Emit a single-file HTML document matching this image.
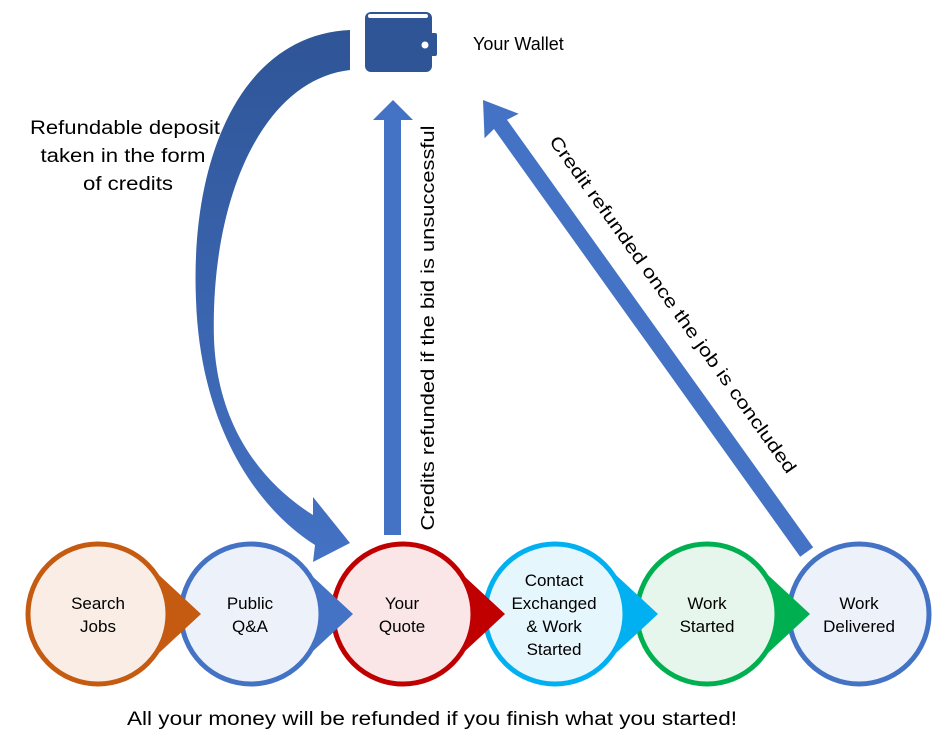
<!DOCTYPE html>
<html><head><meta charset="utf-8"><style>
html,body{margin:0;padding:0;background:#fff;}
svg{display:block;font-family:"Liberation Sans",sans-serif;}
</style></head><body>
<svg width="950" height="750" viewBox="0 0 950 750" xmlns="http://www.w3.org/2000/svg">
<defs>
<linearGradient id="g" x1="0" y1="0" x2="0" y2="1">
<stop offset="0" stop-color="#2f5597"/><stop offset="1" stop-color="#4472c4"/>
</linearGradient>
</defs>
<path d="M350 30 C240 35,190 160,196 300 C200 420,252 505,315 545 L313 562 L350 543 L313 497 L313 515 C265 485,218 430,214 340 C210 200,262 80,350 70 Z" fill="url(#g)"/>
<rect x="365" y="12" width="67" height="60" rx="6" fill="#2f5597"/>
<rect x="368" y="14" width="60" height="4" rx="2" fill="#fff"/>
<rect x="365" y="19" width="67" height="4" fill="#2f5597"/>
<rect x="420" y="33" width="17" height="23" rx="2" fill="#2f5597"/>
<circle cx="425" cy="45" r="3.5" fill="#fff"/>
<text x="473" y="50" font-size="18">Your Wallet</text>
<path d="M384 535 L384 120 L373 120 L393 100 L413 120 L401 120 L401 535 Z" fill="#4472c4"/>
<text transform="translate(434,328) rotate(-90)" font-size="18" text-anchor="middle" textLength="405" lengthAdjust="spacingAndGlyphs">Credits refunded if the bid is unsuccessful</text>
<g transform="translate(483,100) rotate(54.4)">
<path d="M0 0 L32 -21 L30 -8 L556 -8 L556 8 L30 8 L32 21 Z" fill="#4472c4"/>
</g>
<text transform="translate(668,308) rotate(54.4)" font-size="18" text-anchor="middle" textLength="410" lengthAdjust="spacingAndGlyphs">Credit refunded once the job is concluded</text>
<g font-size="19" text-anchor="middle">
<text x="125" y="134" textLength="190" lengthAdjust="spacingAndGlyphs">Refundable deposit</text>
<text x="123" y="162" textLength="165" lengthAdjust="spacingAndGlyphs">taken in the form</text>
<text x="128" y="190" textLength="90" lengthAdjust="spacingAndGlyphs">of credits</text>
</g>
<g stroke-width="5">
<circle cx="859" cy="614" r="70" fill="#edf2fa" stroke="#4472c4"/>
<polygon points="810,614 755,563 755,665" fill="#00b050"/>
<circle cx="707" cy="614" r="70" fill="#e6f6ec" stroke="#00b050"/>
<polygon points="658,614 603,563 603,665" fill="#00b0f0"/>
<circle cx="555" cy="614" r="70" fill="#e6f6fd" stroke="#00b0f0"/>
<polygon points="505,614 450,563 450,665" fill="#c00000"/>
<circle cx="403" cy="614" r="70" fill="#fae6e6" stroke="#c00000"/>
<polygon points="353,614 298,563 298,665" fill="#4472c4"/>
<circle cx="251" cy="614" r="70" fill="#edf2fa" stroke="#4472c4"/>
<polygon points="201,614 146,563 146,665" fill="#c55a11"/>
<circle cx="98" cy="614" r="70" fill="#f9ede6" stroke="#c55a11"/>
</g>
<g font-size="17" text-anchor="middle">
<text x="98" y="609">Search</text><text x="98" y="632">Jobs</text>
<text x="250" y="609">Public</text><text x="250" y="632">Q&amp;A</text>
<text x="402" y="609">Your</text><text x="402" y="632">Quote</text>
<text x="554" y="586">Contact</text><text x="554" y="609">Exchanged</text><text x="554" y="632">&amp; Work</text><text x="554" y="655">Started</text>
<text x="707" y="609">Work</text><text x="707" y="632">Started</text>
<text x="859" y="609">Work</text><text x="859" y="632">Delivered</text>
</g>
<text x="432" y="725" font-size="19" text-anchor="middle" textLength="610" lengthAdjust="spacingAndGlyphs">All your money will be refunded if you finish what you started!</text>
</svg>
</body></html>
